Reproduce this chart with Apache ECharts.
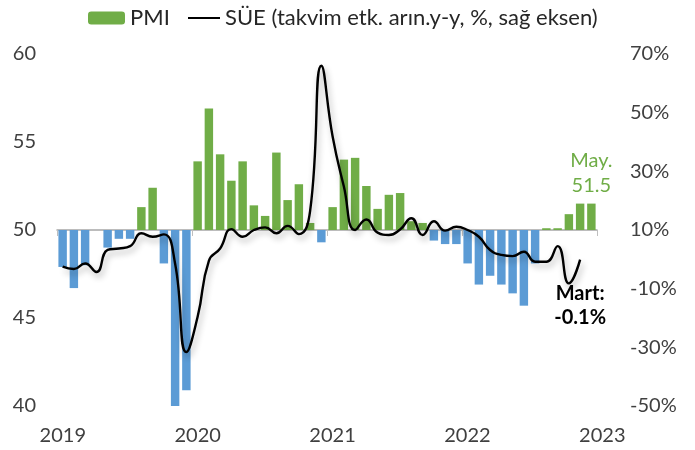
<!DOCTYPE html>
<html>
<head>
<meta charset="utf-8">
<script src="https://cdn.jsdelivr.net/npm/echarts@6/dist/echarts.min.js"></script>
<style>
  html, body { margin: 0; padding: 0; background: #fff; }
  #chart { width: 695px; height: 450px; }
</style>
</head>
<body>
<div id="chart"></div>
<script>
// months: Jun 2019 .. May 2023 (bars), line runs one slot earlier (May 2019 .. Mar 2023)
const months = [
  "2019-06", "2019-07", "2019-08", "2019-09", "2019-10", "2019-11", "2019-12",
  "2020-01", "2020-02", "2020-03", "2020-04", "2020-05", "2020-06", "2020-07", "2020-08", "2020-09", "2020-10", "2020-11", "2020-12",
  "2021-01", "2021-02", "2021-03", "2021-04", "2021-05", "2021-06", "2021-07", "2021-08", "2021-09", "2021-10", "2021-11", "2021-12",
  "2022-01", "2022-02", "2022-03", "2022-04", "2022-05", "2022-06", "2022-07", "2022-08", "2022-09", "2022-10", "2022-11", "2022-12",
  "2023-01", "2023-02", "2023-03", "2023-04", "2023-05"
];

const pmi = [
  47.9, 46.7, 48.0, 50.0, 49.0, 49.5, 49.5,
  51.3, 52.4, 48.1, 33.4, 40.9, 53.9, 56.9, 54.3, 52.8, 53.9, 51.4, 50.8,
  54.4, 51.7, 52.6, 50.4, 49.3, 51.3, 54.0, 54.1, 52.5, 51.2, 52.0, 52.1,
  50.5, 50.4, 49.4, 49.2, 49.2, 48.1, 46.9, 47.4, 46.9, 46.4, 45.7, 48.1,
  50.1, 50.1, 50.9, 51.5, 51.5
];

// SÜE, takvim etkisinden arındırılmış, yıllık %
const sue = [
  -2.5, -3.3, -1.4, -4.3, 3.2, 3.7, 4.5, 8.9,
  7.7, 8.5, -1.5, -31.6, -19.6, -0.5, 3.7, 10.3, 7.7, 10.0, 10.9, 8.9,
  11.4, 8.6, 16.5, 66.0, 41.9, 24.8, 10.0, 13.6, 9.1, 8.3, 10.2, 14.0,
  8.3, 13.0, 9.8, 11.1, 10.0, 7.7, 3.2, 1.5, 1.1, 2.6, -0.8, -0.8,
  4.5, -8.2, -0.1
];

const yearLabels = ["2019", "2020", "2021", "2022", "2023"];

const GREEN = "#70ad47";
const BLUE = "#5b9bd5";
const FONT = "Lato";
const TXT = "#404040";
const SUE_NAME = "SÜE (takvim etk. arın.y-y, %, sağ eksen)";

// label axis: one slot per month plus one, year name every 12 slots
const labelSlots = [];
for (let i = 0; i <= months.length; i++) {
  labelSlots.push(i % 12 === 0 ? yearLabels[i / 12] : "");
}

const barData = pmi.map((v, i) => {
  const item = {
    value: +(v - 50).toFixed(2),
    itemStyle: { color: v >= 50 ? GREEN : BLUE },
  };
  if (i === pmi.length - 1) {
    item.label = {
      show: true,
      position: "top",
      distance: 6,
      formatter: "May.\n" + v.toFixed(1),
      color: GREEN,
      fontFamily: FONT,
      fontSize: 20,
      lineHeight: 25,
    };
  }
  return item;
});

const lineData = sue.map((v, i) => {
  if (i !== sue.length - 1) return v;
  return {
    value: v,
    label: {
      show: true,
      position: "bottom",
      distance: 22,
      formatter: "Mart:\n" + v.toFixed(1) + "%",
      color: "#000",
      fontFamily: FONT,
      fontWeight: "bold",
      fontSize: 20,
      lineHeight: 24,
    },
  };
});

const chart = echarts.init(document.getElementById("chart"), null, { renderer: "canvas" });

chart.setOption({
  animation: false,
  textStyle: { fontFamily: FONT },
  legend: [
    {
      data: ["PMI"],
      left: 83,
      top: 2,
      itemWidth: 37,
      itemHeight: 13,
      textStyle: { fontSize: 22, color: "#262626", fontFamily: FONT },
    },
    {
      data: [SUE_NAME],
      left: 183,
      top: 2,
      icon: "rect",
      itemWidth: 32,
      itemHeight: 2,
      textStyle: { fontSize: 22, color: "#262626", fontFamily: FONT },
    },
  ],
  grid: [
    { left: 57, top: 54, width: 540, height: 352 },
    { left: 62.8, top: 405, width: 539.5, height: 1 },
  ],
  xAxis: [
    {
      type: "category",
      gridIndex: 0,
      data: months,
      boundaryGap: true,
      axisLine: {
        onZero: true,
        onZeroAxisIndex: 2,
        lineStyle: { color: "#a6a6a6", width: 1.5 },
      },
      axisTick: {
        show: true,
        interval: 11,
        length: 6,
        lineStyle: { color: "#bfbfbf" },
      },
      axisLabel: { show: false },
    },
    {
      type: "category",
      gridIndex: 1,
      data: labelSlots,
      boundaryGap: false,
      axisLine: { show: false },
      axisTick: { show: false },
      axisLabel: {
        interval: 0,
        margin: 20,
        fontSize: 20,
        color: TXT,
        fontFamily: FONT,
      },
    },
  ],
  yAxis: [
    {
      type: "value",
      gridIndex: 0,
      min: 40,
      max: 60,
      interval: 5,
      position: "left",
      axisLine: { show: false },
      axisTick: { show: false },
      splitLine: { show: false },
      axisLabel: { fontSize: 20, color: TXT, margin: 21, fontFamily: FONT },
    },
    {
      type: "value",
      gridIndex: 0,
      min: -50,
      max: 70,
      interval: 20,
      position: "right",
      axisLine: { show: false },
      axisTick: { show: false },
      splitLine: { show: false },
      axisLabel: {
        fontSize: 20,
        color: TXT,
        margin: 33,
        fontFamily: FONT,
        formatter: "{value}%",
      },
    },
    {
      // hidden axis for bars drawn from the 50 line
      type: "value",
      gridIndex: 0,
      min: -10,
      max: 10,
      show: false,
    },
    {
      type: "value",
      gridIndex: 1,
      show: false,
    },
  ],
  series: [
    {
      name: "PMI",
      type: "bar",
      xAxisIndex: 0,
      yAxisIndex: 2,
      barCategoryGap: "25%",
      itemStyle: { color: GREEN },
      data: barData,
    },
    {
      name: SUE_NAME,
      type: "line",
      xAxisIndex: 0,
      yAxisIndex: 1,
      smooth: 0.5,
      symbol: "circle",
      symbolSize: 0,
      showSymbol: true,
      itemStyle: { color: "#000" },
      lineStyle: {
        color: "#000",
        width: 2.4,
        shadowColor: "rgba(0,0,0,0.3)",
        shadowBlur: 6,
        shadowOffsetX: 2,
        shadowOffsetY: 4,
      },
      data: lineData,
      z: 5,
    },
  ],
});
</script>
</body>
</html>
